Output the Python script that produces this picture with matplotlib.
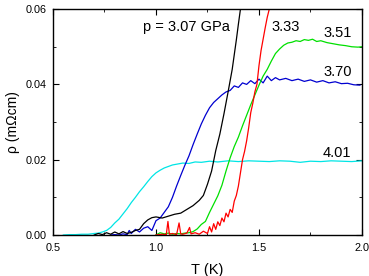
import numpy as np
import matplotlib
matplotlib.use("Agg")
import matplotlib.pyplot as plt
from matplotlib.ticker import MultipleLocator

plt.rcParams['font.family'] = ['Liberation Sans', 'DejaVu Sans']

# p = 3.07 GPa
t_307 = [0.70, 0.72, 0.74, 0.76, 0.78, 0.80, 0.82, 0.84, 0.86, 0.88, 0.90, 0.92,
         0.94, 0.96, 0.98, 1.00, 1.03, 1.06, 1.09, 1.12, 1.15, 1.18, 1.21, 1.23,
         1.25, 1.27, 1.29, 1.31, 1.33, 1.35, 1.37, 1.39, 1.40, 1.41, 1.42]
r_307 = [0.0000, 0.0004, 0.0001, 0.0006, 0.0002, 0.0008, 0.0003, 0.0009, 0.0004,
         0.0007, 0.0012, 0.0015, 0.0030, 0.0040, 0.0046, 0.0048, 0.0045, 0.0050,
         0.0055, 0.0058, 0.0068, 0.0078, 0.0092, 0.0105, 0.0135, 0.0170, 0.0224,
         0.0268, 0.0322, 0.0380, 0.0440, 0.0518, 0.0560, 0.0600, 0.0620]

# 3.33 GPa
t_333 = [1.00, 1.03, 1.05, 1.058, 1.065, 1.08, 1.10, 1.112, 1.12, 1.13, 1.15, 1.163,
         1.17, 1.19, 1.21, 1.23, 1.25, 1.26, 1.27, 1.28, 1.29, 1.30, 1.31, 1.32,
         1.33, 1.34, 1.35, 1.36, 1.37, 1.38, 1.39, 1.40, 1.41, 1.42, 1.43, 1.44,
         1.45, 1.46, 1.47, 1.48, 1.49, 1.50, 1.51, 1.52, 1.53, 1.54, 1.55, 1.56]
r_333 = [0.0000, 0.0002, 0.0001, 0.0036, 0.0002, 0.0004, 0.0001, 0.0032, 0.0003,
         0.0002, 0.0005, 0.0020, 0.0003, 0.0006, 0.0002, 0.0010, 0.0004, 0.0022,
         0.0008, 0.0030, 0.0015, 0.0035, 0.0025, 0.0045, 0.0035, 0.0058, 0.0048,
         0.0068, 0.0060, 0.0090, 0.0105, 0.0130, 0.0165, 0.0200, 0.0222, 0.0250,
         0.0285, 0.0325, 0.0350, 0.0380, 0.0400, 0.0450, 0.0490, 0.0520, 0.0550,
         0.0578, 0.0600, 0.0620]

# 3.51 GPa
t_351 = [1.00, 1.02, 1.04, 1.06, 1.08, 1.10, 1.12, 1.14, 1.16, 1.18, 1.20, 1.22,
         1.24, 1.26, 1.28, 1.30, 1.32, 1.34, 1.36, 1.38, 1.40, 1.42, 1.44, 1.46,
         1.48, 1.50, 1.52, 1.54, 1.56, 1.58, 1.60, 1.62, 1.64, 1.66, 1.68, 1.70,
         1.72, 1.74, 1.76, 1.78, 1.80, 1.83, 1.86, 1.89, 1.92, 1.95, 1.98, 2.00]
r_351 = [0.0000, 0.0006, 0.0003, 0.0005, 0.0002, 0.0004, 0.0003, 0.0005, 0.0006,
         0.0009, 0.0016, 0.0028, 0.0036, 0.0060, 0.0082, 0.0104, 0.0132, 0.0170,
         0.0205, 0.0235, 0.0260, 0.0290, 0.0318, 0.0346, 0.0372, 0.0398, 0.0422,
         0.0440, 0.0462, 0.0482, 0.0494, 0.0504, 0.0510, 0.0512, 0.0516, 0.0514,
         0.0519, 0.0517, 0.0520, 0.0514, 0.0516, 0.0511, 0.0508, 0.0505, 0.0503,
         0.0500, 0.0499, 0.0500]

# 3.70 GPa
t_370 = [0.78, 0.80, 0.82, 0.84, 0.86, 0.87, 0.88, 0.90, 0.92, 0.94, 0.96, 0.98,
         1.00, 1.02, 1.04, 1.06, 1.08, 1.10, 1.12, 1.14, 1.16, 1.18, 1.20, 1.22,
         1.24, 1.26, 1.28, 1.30, 1.32, 1.34, 1.36, 1.38, 1.40, 1.42, 1.44, 1.46,
         1.48, 1.50, 1.52, 1.54, 1.56, 1.58, 1.60, 1.63, 1.66, 1.69, 1.72, 1.75,
         1.78, 1.81, 1.84, 1.87, 1.90, 1.93, 1.96, 1.99]
r_370 = [0.0000, 0.0001, 0.0000, 0.0003, 0.0001, 0.0012, 0.0004, 0.0015, 0.0008,
         0.0018, 0.0022, 0.0012, 0.0038, 0.0045, 0.0060, 0.0075, 0.0100, 0.0130,
         0.0158, 0.0185, 0.0210, 0.0240, 0.0268, 0.0295, 0.0318, 0.0338, 0.0352,
         0.0362, 0.0372, 0.0380, 0.0384, 0.0396, 0.0392, 0.0404, 0.0400, 0.0410,
         0.0402, 0.0414, 0.0404, 0.0422, 0.0410, 0.0418, 0.0412, 0.0416, 0.0410,
         0.0414, 0.0408, 0.0412, 0.0406, 0.0410, 0.0404, 0.0407, 0.0402, 0.0403,
         0.0399, 0.0398]

# 4.01 GPa
t_401 = [0.55, 0.58, 0.61, 0.64, 0.67, 0.70, 0.72, 0.74, 0.76, 0.78, 0.80, 0.82,
         0.84, 0.86, 0.88, 0.90, 0.92, 0.94, 0.96, 0.98, 1.00, 1.02, 1.04, 1.06,
         1.08, 1.10, 1.13, 1.16, 1.19, 1.22, 1.26, 1.30, 1.35, 1.40, 1.45, 1.50,
         1.55, 1.60, 1.65, 1.70, 1.75, 1.80, 1.85, 1.90, 1.95, 2.00]
r_401 = [0.0000, 0.0001, 0.0001, 0.0002, 0.0002, 0.0004, 0.0005, 0.0008, 0.0012,
         0.0020, 0.0032, 0.0042, 0.0056, 0.0070, 0.0086, 0.0100, 0.0115, 0.0128,
         0.0142, 0.0155, 0.0165, 0.0172, 0.0178, 0.0182, 0.0186, 0.0188, 0.0191,
         0.0190, 0.0194, 0.0193, 0.0196, 0.0194, 0.0197, 0.0195, 0.0197, 0.0196,
         0.0195, 0.0197, 0.0196, 0.0193, 0.0196, 0.0195, 0.0197, 0.0196, 0.0195,
         0.0197]

fig = plt.figure(figsize=(3.69, 2.76), dpi=100)
ax = fig.add_axes([0.1436, 0.1486, 0.8374, 0.8184])

lw = 0.9
ax.plot(t_401, r_401, color="#00e5e5", lw=lw)
ax.plot(t_370, r_370, color="#0000d0", lw=lw)
ax.plot(t_351, r_351, color="#00e000", lw=lw)
ax.plot(t_333, r_333, color="#ff0000", lw=lw)
ax.plot(t_307, r_307, color="black", lw=lw)

ax.set_xlim(0.5, 2.0)
ax.set_ylim(0.0, 0.06)
ax.xaxis.set_major_locator(MultipleLocator(0.5))
ax.xaxis.set_minor_locator(MultipleLocator(0.25))
ax.yaxis.set_major_locator(MultipleLocator(0.02))
ax.yaxis.set_minor_locator(MultipleLocator(0.01))
ax.xaxis.set_major_formatter(plt.FormatStrFormatter("%.1f"))
ax.yaxis.set_major_formatter(plt.FormatStrFormatter("%.2f"))
ax.tick_params(which="both", direction="in", top=True, right=True, labelsize=7.8)
ax.tick_params(which="major", length=4)
ax.tick_params(which="minor", length=2.5)
ax.tick_params(axis="x", which="major", pad=5.5)
ax.tick_params(axis="y", which="major", pad=4.5)
for s in ax.spines.values():
  s.set_linewidth(1.0)

ax.set_xlabel("T (K)", fontsize=10.5)
ax.xaxis.set_label_coords(0.5, -0.125)
ax.set_ylabel("ρ (mΩcm)", fontsize=10)

ax.text(0.937, 0.0552, "p = 3.07 GPa", fontsize=10.5, va="center")
ax.text(1.563, 0.0552, "3.33", fontsize=10.5, va="center")
ax.text(1.811, 0.0536, "3.51", fontsize=10.5, va="center")
ax.text(1.811, 0.0433, "3.70", fontsize=10.5, va="center")
ax.text(1.811, 0.0218, "4.01", fontsize=10.5, va="center")

fig.savefig("out.png", dpi=100)
